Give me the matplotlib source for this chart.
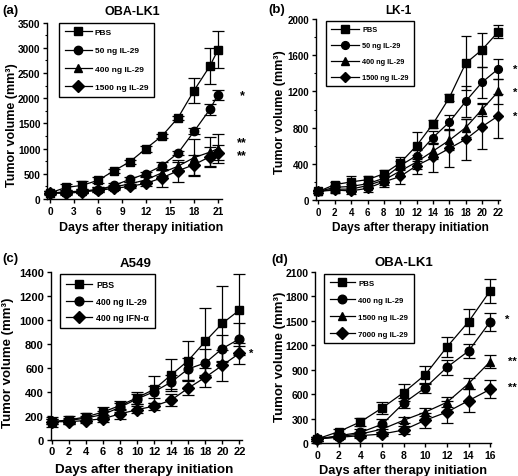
import matplotlib
matplotlib.use("Agg")
import matplotlib.pyplot as plt
from matplotlib.ticker import MultipleLocator

plt.rcParams['font.family'] = ['Liberation Sans', 'DejaVu Sans']
plt.rcParams['font.weight'] = 'bold'

# ---------------- data ----------------
# (a) OBA-LK1
days_a = [0, 2, 4, 6, 8, 10, 12, 14, 16, 18, 20, 21]
a_pbs = [120, 230, 270, 370, 560, 740, 1000, 1250, 1610, 2150, 2640, 2960]
a_pbs_err = [40, 60, 90, 60, 40, 40, 60, 40, 40, 250, 360, 370]
a_50 = [120, 140, 160, 180, 270, 390, 500, 660, 910, 1340, 1780, 2070]
a_50_err = [30, 40, 40, 50, 40, 50, 40, 80, 40, 60, 110, 100]
a_400 = [120, 130, 150, 190, 240, 300, 380, 520, 650, 820, 930, 1000]
a_400_err = [30, 30, 40, 40, 40, 40, 50, 60, 80, 360, 300, 290]
a_1500 = [120, 110, 140, 170, 210, 250, 310, 420, 560, 680, 840, 920]
a_1500_err = [30, 30, 30, 40, 40, 40, 50, 180, 220, 200, 190, 150]
labels_a = ['PBS', '50 ng IL-29', '400 ng IL-29', '1500 ng IL-29']

# (b) LK-1
days_b = [0, 2, 4, 6, 8, 10, 12, 14, 16, 18, 20, 22]
b_pbs = [95, 170, 200, 225, 290, 410, 600, 840, 1130, 1510, 1660, 1860]
b_pbs_err = [20, 30, 60, 40, 40, 60, 150, 40, 40, 300, 190, 70]
b_50 = [95, 140, 150, 180, 240, 380, 490, 690, 860, 1090, 1300, 1450]
b_50_err = [20, 30, 30, 40, 40, 50, 60, 70, 80, 170, 170, 110]
b_400 = [95, 120, 120, 160, 220, 320, 420, 540, 660, 800, 1000, 1200]
b_400_err = [20, 30, 30, 30, 50, 60, 80, 90, 110, 100, 70, 140]
b_1500 = [95, 110, 100, 130, 200, 260, 380, 470, 570, 670, 810, 930]
b_1500_err = [20, 30, 30, 40, 60, 80, 90, 160, 200, 230, 250, 240]
labels_b = ['PBS', '50 ng IL-29', '400 ng IL-29', '1500 ng IL-29']

# (c) A549
days_c = [0, 2, 4, 6, 8, 10, 12, 14, 16, 18, 20, 22]
c_pbs = [150, 165, 190, 230, 285, 350, 420, 540, 660, 820, 970, 1080]
c_pbs_err = [40, 30, 30, 40, 40, 50, 110, 130, 160, 280, 310, 300]
c_il29 = [150, 160, 180, 210, 270, 340, 400, 480, 590, 640, 760, 840]
c_il29_err = [20, 20, 20, 30, 40, 40, 50, 60, 90, 120, 110, 130]
c_ifn = [150, 150, 160, 175, 215, 250, 280, 330, 430, 520, 620, 720]
c_ifn_err = [20, 20, 20, 30, 40, 30, 30, 50, 60, 80, 130, 90]
labels_c = ['PBS', '400 ng IL-29', '400 ng IFN-α']

# (d) OBA-LK1
days_d = [0, 2, 4, 6, 8, 10, 12, 14, 16]
d_pbs = [50, 140, 260, 430, 620, 840, 1180, 1490, 1870]
d_pbs_err = [20, 30, 50, 70, 100, 110, 120, 150, 150]
d_400 = [50, 90, 130, 230, 490, 680, 930, 1130, 1490]
d_400_err = [20, 30, 40, 60, 60, 60, 90, 90, 110]
d_1500 = [50, 80, 110, 170, 280, 380, 500, 730, 1000]
d_1500_err = [20, 20, 30, 40, 40, 50, 60, 70, 80]
d_7000 = [50, 70, 90, 110, 160, 280, 380, 520, 660]
d_7000_err = [20, 20, 30, 30, 50, 90, 130, 140, 110]
labels_d = ['PBS', '400 ng IL-29', '1500 ng IL-29', '7000 ng IL-29']

# ---------------- layout ----------------
W, H = 518, 477
fig = plt.figure(figsize=(W / 100, H / 100), dpi=100)


def px_axes(l, t, r, b):
    return fig.add_axes([l / W, 1 - b / H, (r - l) / W, (b - t) / H])


def ftext(x, y, s, **kw):
    fig.text(x / W, 1 - y / H, s, **kw)


def style(ax, tick_fs):
    for s in ['top', 'right']:
        ax.spines[s].set_visible(False)
    for s in ['left', 'bottom']:
        ax.spines[s].set_linewidth(1.0)
    ax.tick_params(direction='out', length=3, width=1.0, labelsize=tick_fs, pad=1.8)
    ax.tick_params(which='minor', direction='out', length=1.8, width=0.8)
    for lab in ax.get_xticklabels() + ax.get_yticklabels():
        lab.set_fontweight('bold')


def draw(ax, days, series, errs, markers, ms, cap):
    handles = []
    for v, e, m in zip(series, errs, markers):
        ax.errorbar(days, v, yerr=e, fmt='none', ecolor='black',
                    elinewidth=0.9, capsize=cap, capthick=0.9,
                    clip_on=False, zorder=2)
        h, = ax.plot(days, v, color='black', marker=m, markersize=ms,
                     linewidth=0.9, clip_on=False, zorder=3)
        handles.append(h)
    return handles


def legend(ax, handles, labels, x, y, fs, spacing, hl):
    leg = ax.legend(handles, labels, loc='upper left', bbox_to_anchor=(x, y),
                    borderaxespad=0, frameon=True, fancybox=False,
                    edgecolor='black', framealpha=1,
                    prop={'size': fs, 'weight': 'bold'}, labelspacing=spacing,
                    handlelength=hl, handletextpad=0.4, borderpad=0.7)
    leg.get_frame().set_linewidth(1.0)


mk4 = ['s', 'o', '^', 'D']

# ---- (a)
ax = px_axes(47.2, 23.5, 222, 200)
hs = draw(ax, days_a, [a_pbs, a_50, a_400, a_1500],
          [a_pbs_err, a_50_err, a_400_err, a_1500_err], ['s', 'o', '^', 'D'], 6, 4)
ax.set_xlim(-0.35, 21.5)
ax.set_ylim(0, 3500)
ax.set_xticks(range(0, 22, 3))
ax.set_yticks(range(0, 3501, 500))
ax.yaxis.set_minor_locator(MultipleLocator(250))
style(ax, 7.3)
legend(ax, hs, labels_a, 0.068, 1.0, 6.0, 1.25, 3.2)
ax.text(23.7, 2060, '*', ha='left', va='center', fontsize=9, fontweight='bold')
ax.text(23.4, 1120, '**', ha='left', va='center', fontsize=9, fontweight='bold')
ax.text(23.4, 870, '**', ha='left', va='center', fontsize=9, fontweight='bold')
ftext(2, 11, '(a)', fontsize=9.5, fontweight='bold', va='center')
ftext(132, 12, 'OBA-LK1', fontsize=9, fontweight='bold', ha='center', va='center')
ftext(12, 125, 'Tumor volume (mm³)', fontsize=9, fontweight='bold', rotation=90,
      ha='center', va='center')
ftext(141, 231, 'Days after therapy initiation', fontsize=8.9, fontweight='bold',
      ha='center', va='baseline')

# ---- (b)
ax = px_axes(316, 20, 500, 201)
hs = draw(ax, days_b, [b_pbs, b_50, b_400, b_1500],
          [b_pbs_err, b_50_err, b_400_err, b_1500_err], mk4, 5.6, 3.5)
ax.set_xlim(-0.3, 22.2)
ax.set_ylim(0, 2000)
ax.set_xticks(range(0, 23, 2))
ax.set_yticks(range(0, 2001, 400))
ax.yaxis.set_minor_locator(MultipleLocator(200))
style(ax, 7.0)
legend(ax, hs, labels_b, 0.054, 0.989, 5.3, 1.2, 3.8)
for yv in [1450, 1200, 930]:
    ax.text(23.8, yv, '*', ha='left', va='center', fontsize=8, fontweight='bold')
ftext(268, 10, '(b)', fontsize=9.5, fontweight='bold', va='center')
ftext(398, 11, 'LK-1', fontsize=8.5, fontweight='bold', ha='center', va='center')
ftext(280, 112, 'Tumor volume (mm³)', fontsize=9, fontweight='bold', rotation=90,
      ha='center', va='center')
ftext(410, 231, 'Days after therapy initiation', fontsize=8.6, fontweight='bold',
      ha='center', va='baseline')

# ---- (c)
ax = px_axes(50.5, 272.7, 242, 440.7)
hs = draw(ax, days_c, [c_pbs, c_il29, c_ifn],
          [c_pbs_err, c_il29_err, c_ifn_err], ['s', 'o', 'D'], 6.3, 4)
ax.set_xlim(-0.15, 22.3)
ax.set_ylim(0, 1400)
ax.set_xticks(range(0, 23, 2))
ax.set_yticks(range(0, 1401, 200))
style(ax, 8.0)
legend(ax, hs, labels_c, 0.05, 0.986, 6.3, 0.85, 3.0)
ax.text(23.1, 720, '*', ha='left', va='center', fontsize=8, fontweight='bold')
ftext(2, 259, '(c)', fontsize=9.5, fontweight='bold', va='center')
ftext(136, 264, 'A549', fontsize=9.5, fontweight='bold', ha='center', va='center')
ftext(8, 363, 'Tumor volume (mm³)', fontsize=9.5, fontweight='bold', rotation=90,
      ha='center', va='center')
ftext(144, 473.5, 'Days after therapy initiation', fontsize=9.7, fontweight='bold',
      ha='center', va='baseline')

# ---- (d)
ax = px_axes(315.3, 273, 491.3, 444)
hs = draw(ax, days_d, [d_pbs, d_400, d_1500, d_7000],
          [d_pbs_err, d_400_err, d_1500_err, d_7000_err], mk4, 6.2, 4)
ax.set_xlim(-0.18, 16.1)
ax.set_ylim(0, 2100)
ax.set_xticks(range(0, 17, 2))
ax.set_yticks(range(0, 2101, 300))
style(ax, 7.5)
legend(ax, hs, labels_d, 0.05, 0.99, 5.7, 1.2, 3.2)
ax.text(17.4, 1530, '*', ha='left', va='center', fontsize=8, fontweight='bold')
ax.text(17.6, 1005, '**', ha='left', va='center', fontsize=8, fontweight='bold')
ax.text(17.6, 694, '**', ha='left', va='center', fontsize=8, fontweight='bold')
ftext(271, 260, '(d)', fontsize=9.5, fontweight='bold', va='center')
ftext(404, 263, 'OBA-LK1', fontsize=9.5, fontweight='bold', ha='center', va='center')
ftext(280, 357, 'Tumor volume (mm³)', fontsize=9.5, fontweight='bold', rotation=90,
      ha='center', va='center')
ftext(403, 474.5, 'Days after therapy initiation', fontsize=9.2, fontweight='bold',
      ha='center', va='baseline')

fig.savefig('out.png', dpi=100)
